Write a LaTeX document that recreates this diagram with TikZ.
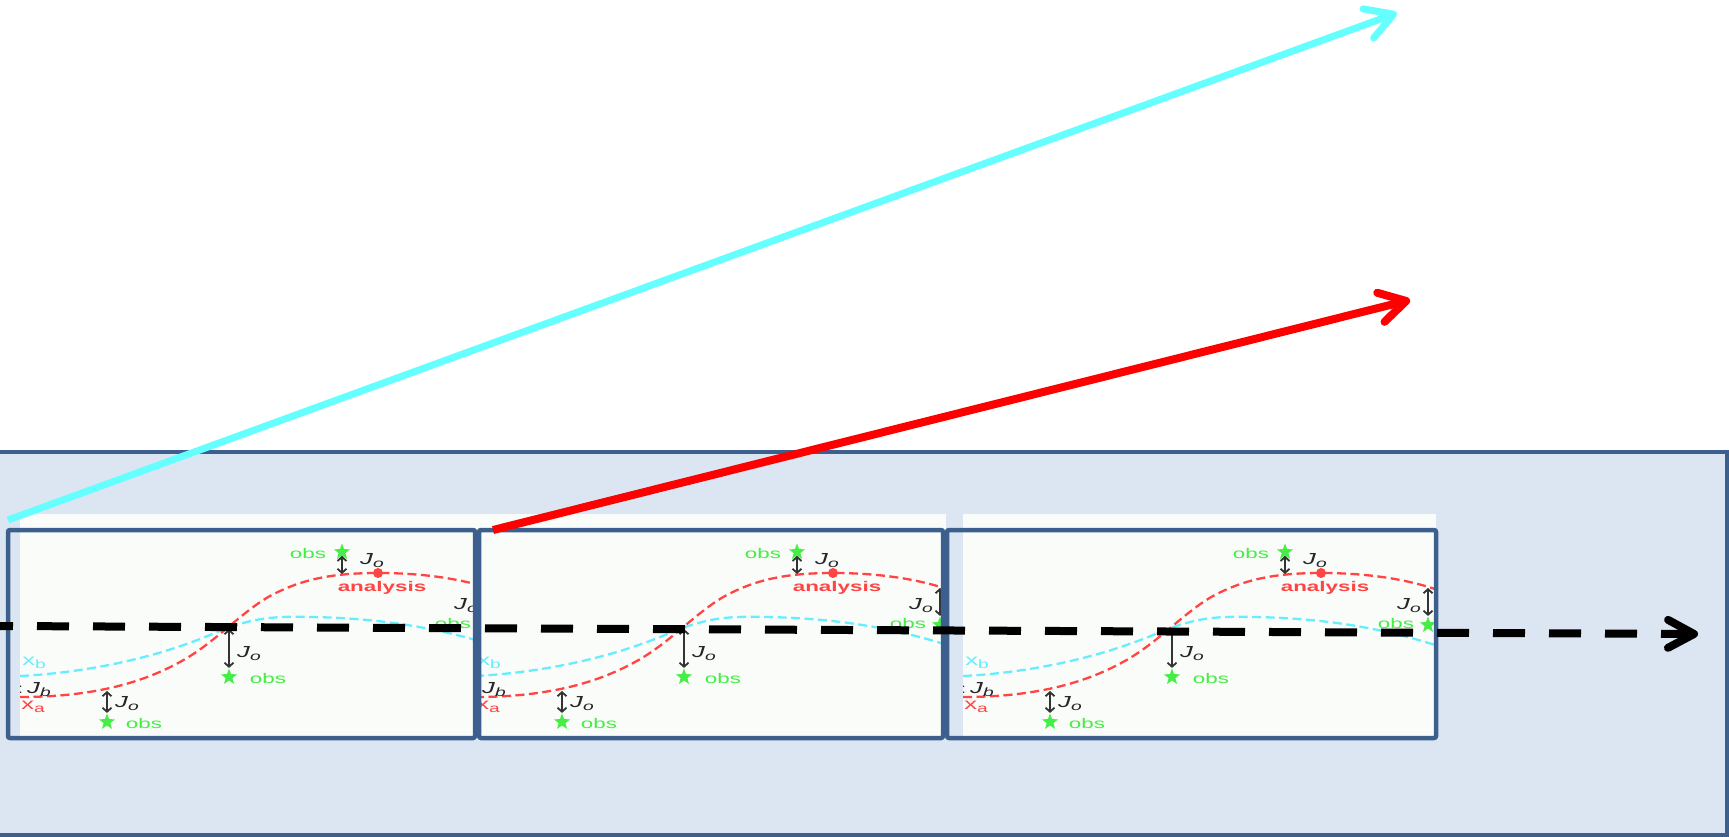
\documentclass[tikz,border=0pt]{standalone}
\usepackage{fontspec}
\setmainfont{Liberation Sans}
\usetikzlibrary{arrows.meta,shapes.geometric}
\definecolor{panelfill}{HTML}{DCE6F2}
\definecolor{borderblue}{HTML}{3C5F8E}
\definecolor{arrowcyan}{HTML}{66FFFF}
\definecolor{curvered}{HTML}{FF4444}
\definecolor{curvecyan}{HTML}{66EEFF}
\definecolor{obsgreen}{HTML}{44EE44}
\definecolor{imgwhite}{HTML}{FAFCFA}
\newcommand\imgfont{\fontsize{14}{16}\selectfont}
\newcommand\hsx[1]{\scalebox{1.6}[1]{#1}}
\newcommand\subfnt[1]{\raisebox{-3pt}{\fontsize{12}{14}\selectfont #1}}
\newcommand\jo{\hsx{{\fontsize{16}{18}\selectfont\textit{J}}\subfnt{\textit{o}}}}
\newcommand\daimg[2]{%
\begin{scope}[shift={(#2,0)}]
\draw[cyancurve] (0,676) .. controls (60,673) and (130,660) .. (190,635) .. controls (230,618) and (250,616) .. (290,617) .. controls (360,618) and (420,628) .. (475,646);
\draw[redcurve] (0,697) .. controls (70,697) and (120,684) .. (160,662) .. controls (195,643) and (220,613) .. (250,596) .. controls (280,580) and (310,573) .. (358,573) .. controls (400,573) and (440,578) .. (475,590);
\fill[curvered] (358,573) circle (5);
\node[lbl, text=curvered, font=\imgfont\bfseries] (#1an) at (362,588) {\hsx{analysis}};
\node[lbl, text=curvecyan] (#1xb) at (14,663) {\hsx{{\fontsize{16}{18}\selectfont x}\subfnt{b}}};
\node[lbl, text=curvered] (#1xa) at (13,707) {\hsx{{\fontsize{16}{18}\selectfont x}\subfnt{a}}};
\node[lbl, anchor=west] (#1jb) at (-3,690) {\hsx{:\,{\fontsize{16}{18}\selectfont\textit{J}}\subfnt{\textit{b}}}};
% top obs
\node[obsstar] (#1s0) at (322,552) {};
\node[lbl, text=obsgreen] (#1t0) at (288,553) {\hsx{obs}};
\coordinate (#1c0) at (322,574);
\draw[joarrow] (#1s0) -- (#1c0);
\node[lbl] (#1j0) at (352,561) {\jo};
% obs 1
\node[obsstar] (#1s1) at (87,722) {};
\node[lbl, text=obsgreen] (#1t1) at (124,723) {\hsx{obs}};
\coordinate (#1c1) at (87,691);
\draw[joarrow] (#1s1) -- (#1c1);
\node[lbl] (#1j1) at (107,704) {\jo};
% obs 2
\node[obsstar] (#1s2) at (209,677) {};
\node[lbl, text=obsgreen] (#1t2) at (248,678) {\hsx{obs}};
\coordinate (#1c2) at (209,629);
\draw[joarrow] (#1s2) -- (#1c2);
\node[lbl] (#1j2) at (229,654) {\jo};
% obs 3
\node[obsstar] (#1s3) at (465,625) {};
\node[lbl, text=obsgreen] (#1t3) at (433,623) {\hsx{obs}};
\coordinate (#1c3) at (465,588);
\draw[joarrow] (#1s3) -- (#1c3);
\node[lbl] (#1j3) at (446,606) {\jo};
\end{scope}}
\begin{document}
\begin{tikzpicture}[x=1pt,y=-1pt,
  panel/.style={draw=borderblue, fill=panelfill, line width=3.5pt},
  framebox/.style={draw=borderblue, line width=4.5pt, rounded corners=2pt},
  lbl/.style={font=\imgfont, inner sep=0pt, text=black!85},
  obsstar/.style={star, star points=5, star point ratio=2.4, fill=obsgreen, inner sep=0pt, minimum size=17pt},
  joarrow/.style={draw=black!80, line width=1.8pt, {Straight Barb[length=4pt,width=9pt]}-{Straight Barb[length=4pt,width=9pt]}},
  redcurve/.style={draw=curvered, line width=2.3pt, dash pattern=on 9pt off 4.5pt},
  cyancurve/.style={draw=curvecyan, line width=2.3pt, dash pattern=on 9pt off 4.5pt},
  cyanarrow/.style={draw=arrowcyan, line width=7pt, -{Straight Barb[length=27pt,width=31pt,line cap=round,line join=round]}},
  redarrow/.style={draw=red, line width=8pt, -{Straight Barb[length=26pt,width=30pt,line cap=round,line join=round]}},
  timearrow/.style={draw=black, line width=8pt, dash pattern=on 32pt off 24pt, dash phase=19pt, -{Straight Barb[length=26pt,width=28pt,line cap=round,line join=round]}}
]
\useasboundingbox (0,0) rectangle (1729,837);
\clip (0,0) rectangle (1729,837);
\fill[white] (0,0) rectangle (1729,837);
\draw[panel] (-10,452) rectangle (1727,835);
% images
\begin{scope}
  \clip (20,514) rectangle (475,740);
  \fill[imgwhite] (20,514) rectangle (475,740);
  \daimg{a}{20}
\end{scope}
\begin{scope}
  \clip (475,514) rectangle (946,740);
  \fill[imgwhite] (475,514) rectangle (946,740);
  \daimg{b}{475}
\end{scope}
\begin{scope}
  \clip (963,514) rectangle (1436,740);
  \fill[imgwhite] (963,514) rectangle (1436,740);
  \daimg{c}{963}
\end{scope}
% frames
\draw[framebox] (8,530) rectangle (475,738);
\draw[framebox] (479,530) rectangle (943,738);
\draw[framebox] (947,530) rectangle (1436,738);
% arrows
\coordinate (cs) at (8,520);
\coordinate (ce) at (1397,13);
\coordinate (rs) at (493,530);
\coordinate (re) at (1410,300);
\coordinate (ds) at (0,626);
\coordinate (de) at (1698,634);
\draw[cyanarrow] (cs) -- (ce);
\draw[redarrow] (rs) -- (re);
\draw[timearrow] (ds) -- (de);
\end{tikzpicture}
\end{document}
